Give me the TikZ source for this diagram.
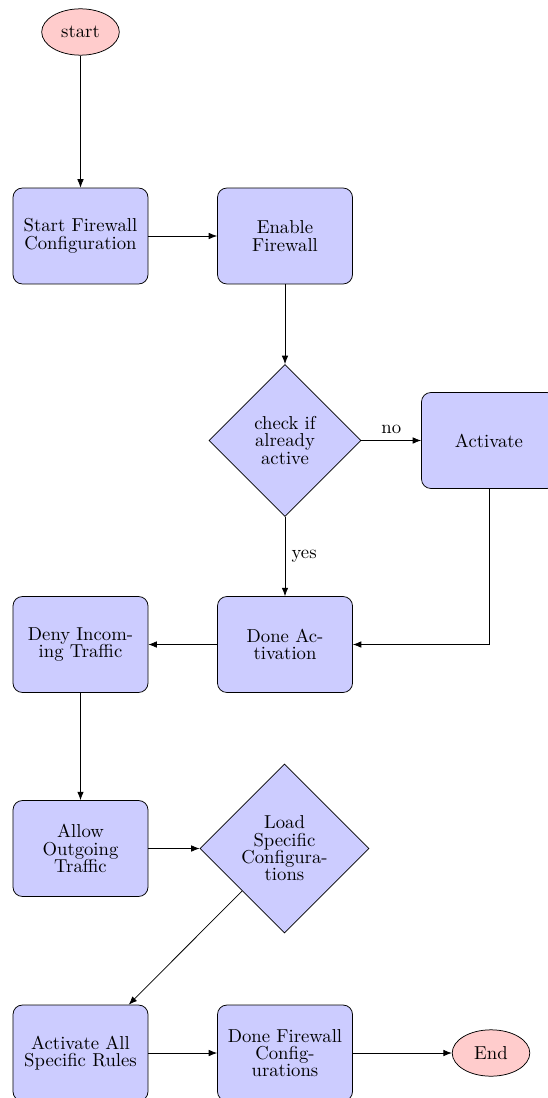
\documentclass[tikz,border=0pt]{standalone}
\usetikzlibrary{shapes.geometric,arrows.meta}
\begin{document}
\begin{tikzpicture}[x=0.5348pt,y=-0.5348pt,
  every node/.style={font={\fontsize{10}{9.3}\selectfont}},
  box/.style={draw, rectangle, rounded corners=5pt, fill=blue!20, minimum width=72.2pt, minimum height=51.3pt, align=center, inner sep=2pt},
  dec/.style={draw, diamond, fill=blue!20, aspect=1, inner sep=0pt, align=center},
  term/.style={draw, ellipse, fill=red!20, minimum width=41.5pt, minimum height=24.8pt, inner sep=1pt},
  arr/.style={-{Latex[length=4.5pt,width=3.5pt]}},
  lbl/.style={font={\fontsize{10}{12}\selectfont}}
]
\useasboundingbox (0,0) rectangle (547,1098);
\node[term] (start) at (80.5,32) {start};
\node[box] (cfg) at (80.5,236) {Start Firewall\\Configuration};
\node[box] (enable) at (285,236) {Enable\\Firewall};
\node[dec, minimum width=81.3pt, minimum height=81.3pt] (check) at (285,440.5) {check if\\already\\active};
\node[box] (activate) at (489,440.5) {Activate};
\node[box] (doneact) at (285,644.5) {Done Ac-\\tivation};
\node[box] (deny) at (80.5,644.5) {Deny Incom-\\ing Traffic};
\node[box] (allow) at (80.5,848.5) {Allow\\Outgoing\\Traffic};
\node[dec, minimum width=90.4pt, minimum height=90.4pt] (load) at (284.5,848.5) {Load\\Specific\\Configura-\\tions};
\node[box] (actall) at (80.5,1053) {Activate All\\Specific Rules};
\node[box] (donefw) at (285,1053) {Done Firewall\\Config-\\urations};
\node[term] (end) at (491,1053) {End};

\draw[arr] (start) -- (cfg);
\draw[arr] (cfg) -- (enable);
\draw[arr] (enable) -- (check);
\draw[arr] (check) -- node[lbl, above] {no} (activate);
\draw[arr] (check) -- node[lbl, right] {yes} (doneact);
\draw[arr] (activate.south) |- (doneact.east);
\draw[arr] (doneact) -- (deny);
\draw[arr] (deny) -- (allow);
\draw[arr] (allow) -- (load);
\draw[arr] (load) -- (actall);
\draw[arr] (actall) -- (donefw);
\draw[arr] (donefw) -- (end);
\end{tikzpicture}
\end{document}
